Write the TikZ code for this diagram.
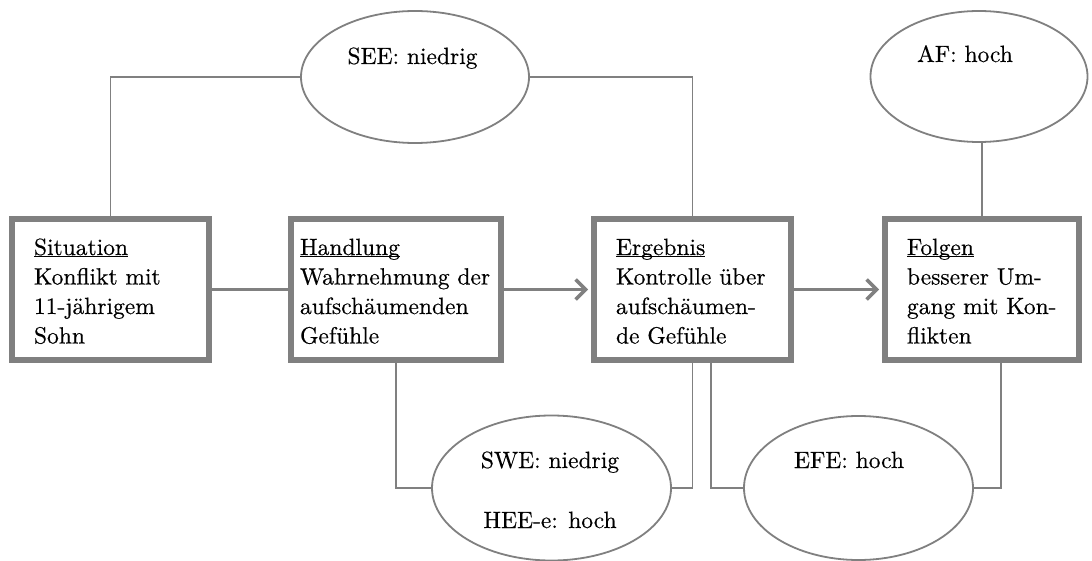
\documentclass[tikz,border=0pt]{standalone}
\usepackage{fontspec}
\setmainfont{lmroman10-regular.otf}[FakeBold=0.4]
\usetikzlibrary{shapes.geometric,arrows.meta}
\definecolor{linegray}{RGB}{128,128,128}
% heading of a stage box: underline at a fixed depth, through descenders
\newcommand\stagehead[1]{\underline{\smash{#1}}\vphantom{Hd}}
\begin{document}
\begin{tikzpicture}[x=1pt,y=-1pt,
  every node/.style={inner sep=0pt, outer sep=0pt},
  stagebox/.style={draw=linegray, line width=6pt, rectangle, minimum height=141pt},
  factor/.style={draw=linegray, line width=1.8pt, ellipse},
  boxtext/.style={anchor=north west, align=left, font=\fontsize{23.5pt}{29.5pt}\selectfont},
  ftext/.style={anchor=base, font=\fontsize{23.5pt}{28pt}\selectfont},
  link/.style={draw=linegray, line width=1.8pt},
  flow/.style={draw=linegray, line width=3.5pt},
  flowarrow/.style={flow, -{Straight Barb[length=10pt,width=20pt]}, shorten >=6pt}
]
\useasboundingbox[fill=white] (0,0) rectangle (1092,561);

% stage boxes
\node[stagebox, minimum width=197pt] (sit) at (110.5,289.5) {};
\node[stagebox, minimum width=210pt] (act) at (396,289.5) {};
\node[stagebox, minimum width=197pt] (res) at (692.5,289.5) {};
\node[stagebox, minimum width=194pt] (con) at (982,289.5) {};

\node[boxtext] (sitT) at (34,238.7) {\stagehead{Situation}\\Konflikt mit\\11-jährigem\\Sohn};
\node[boxtext] (actT) at (300,238.7) {\stagehead{Handlung}\\Wahrnehmung der\\aufschäumenden\\Gefühle};
\node[boxtext] (resT) at (616,238.7) {\stagehead{Ergebnis}\\Kontrolle über\\aufschäumen-\\de Gefühle};
\node[boxtext] (conT) at (907,238.7) {\stagehead{Folgen}\\besserer Um-\\gang mit Kon-\\flikten};

% factor ellipses
\node[factor, minimum width=228pt, minimum height=132pt] (see) at (415,77) {};
\node[factor, minimum width=217pt, minimum height=131pt] (af) at (979,76.5) {};
\node[factor, minimum width=239pt, minimum height=145pt] (swe) at (551.5,488) {};
\node[factor, minimum width=229pt, minimum height=144pt] (efe) at (858.5,488) {};

\node[ftext] (seeT) at (412.5,64) {SEE: niedrig};
\node[ftext] (afT) at (965,62) {AF: hoch};
\node[ftext] (sweT) at (550,468) {SWE: niedrig};
\node[ftext] (heeT) at (550,528) {HEE-e: hoch};
\node[ftext] (efeT) at (849,468) {EFE: hoch};

% connectors between ellipses and boxes
\draw[link] (see.west) -| (sit.north);
\draw[link] (see.east) -| (res.north);
\draw[link] (con.north) -- (con.north |- af.south);
\draw[link] (act.south) |- (swe.west);
\draw[link] (res.south) |- (swe.east);
\draw[link] ([xshift=18.5pt]res.south) |- (efe.west);
\draw[link] ([xshift=19pt]con.south) |- (efe.east);

% flow between stages
\draw[flow] (sit.east) -- (act.west);
\draw[flowarrow] (act.east) -- (res.west);
\draw[flowarrow] (res.east) -- (con.west);
\end{tikzpicture}
\end{document}
